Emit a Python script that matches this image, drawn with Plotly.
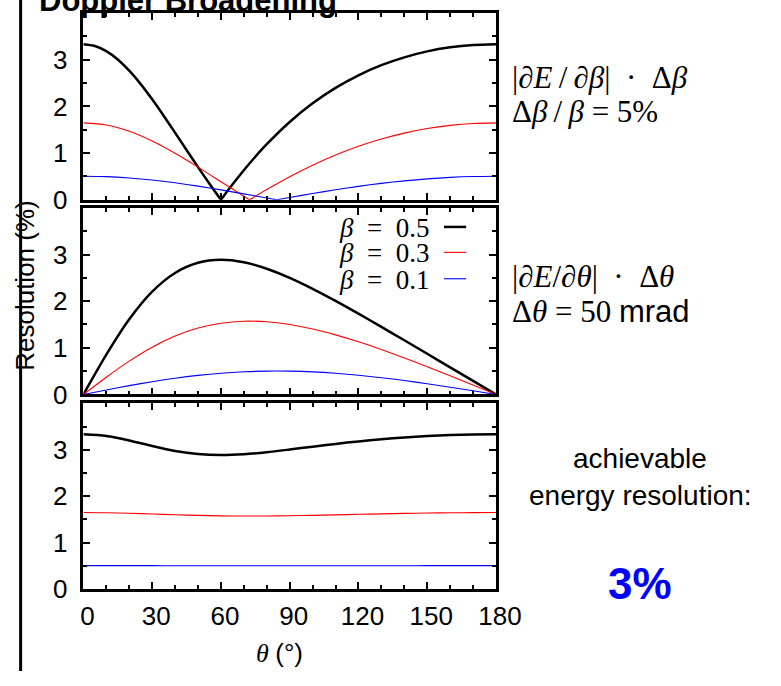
import plotly.graph_objects as go

W, H = 781, 686

# Angle grid (degrees)
theta = [0, 10, 20, 30, 40, 50, 60, 70, 80, 90, 100, 110, 120, 130, 140, 150, 160, 170, 180]

# |dE/dbeta| * dbeta  (%), dbeta/beta = 5 %
theta_b05 = [0, 5, 10, 15, 20, 25, 30, 35, 40, 45, 50, 55, 60, 65, 70, 75, 80, 90, 100, 110, 120,
             130, 140, 150, 160, 170, 180]
dbeta_b05 = [3.333, 3.295, 3.184, 3.004, 2.765, 2.477, 2.152, 1.802, 1.437, 1.068, 0.701, 0.344,
             0.0, 0.327, 0.635, 0.923, 1.191, 1.667, 2.066, 2.397, 2.667, 2.883, 3.051, 3.178,
             3.265, 3.316, 3.333]
theta_b03 = [0, 10, 20, 30, 40, 50, 60, 70, 72.5, 80, 90, 100, 110, 120, 130, 140, 150, 160, 170, 180]
dbeta_b03 = [1.648, 1.602, 1.468, 1.260, 0.997, 0.700, 0.388, 0.077, 0.0, 0.220, 0.495, 0.742,
             0.960, 1.147, 1.303, 1.429, 1.526, 1.594, 1.635, 1.648]
theta_b01 = [0, 10, 20, 30, 40, 50, 60, 70, 80, 84.3, 90, 100, 110, 120, 130, 140, 150, 160, 170, 180]
dbeta_b01 = [0.505, 0.496, 0.468, 0.424, 0.364, 0.293, 0.213, 0.127, 0.038, 0.0, 0.051, 0.136,
             0.216, 0.289, 0.353, 0.406, 0.449, 0.480, 0.499, 0.505]

# |dE/dtheta| * dtheta  (%), dtheta = 50 mrad
dtheta_b05 = [0, 0.855, 1.613, 2.205, 2.605, 2.822, 2.887, 2.834, 2.696, 2.5, 2.265, 2.006,
              1.732, 1.449, 1.162, 0.872, 0.582, 0.291, 0]
dtheta_b03 = [0, 0.370, 0.714, 1.013, 1.252, 1.424, 1.528, 1.571, 1.558, 1.5, 1.404, 1.278,
              1.130, 0.963, 0.784, 0.595, 0.400, 0.201, 0]
dtheta_b01 = [0, 0.096, 0.189, 0.274, 0.348, 0.409, 0.456, 0.486, 0.501, 0.5, 0.484, 0.454,
              0.412, 0.360, 0.299, 0.230, 0.156, 0.079, 0]

# achievable energy resolution (%)
total_b05 = [3.333, 3.297, 3.201, 3.081, 2.975, 2.908, 2.887, 2.904, 2.947, 3.005, 3.066, 3.126,
             3.180, 3.227, 3.265, 3.295, 3.317, 3.329, 3.333]
total_b03 = [1.648, 1.644, 1.632, 1.617, 1.600, 1.587, 1.577, 1.573, 1.573, 1.580, 1.588, 1.598,
             1.610, 1.620, 1.630, 1.638, 1.643, 1.647, 1.648]
total_b01 = [0.505, 0.505, 0.505, 0.505, 0.504, 0.503, 0.503, 0.502, 0.502, 0.503, 0.503, 0.503,
             0.503, 0.504, 0.504, 0.505, 0.505, 0.505, 0.505]

x_ticks = [0, 30, 60, 90, 120, 150, 180]
y_ticks = [0, 1, 2, 3]
beta_labels = ["0.5", "0.3", "0.1"]

BLACK, RED, BLUE = "#000000", "#ff0000", "#0000ff"
styles = [(BLACK, 2.5), (RED, 1.1), (BLUE, 1.1)]

SANS = "Liberation Sans, Arial, sans-serif"
SERIF = "Liberation Serif, Times New Roman, serif"


def px(x):
    return x / W


def py(y):
    return 1 - y / H


fig = go.Figure()


def add_line(x, y, k, panel):
    color, width = styles[k]
    sfx = "" if panel == 1 else str(panel)
    fig.add_trace(go.Scatter(
        x=x, y=y, mode="lines", xaxis="x" + sfx, yaxis="y" + sfx,
        line=dict(color=color, width=width, shape="spline", smoothing=0.8),
        showlegend=False, hoverinfo="skip"))


# panel 1: each curve has a cusp at its zero, so draw both branches separately
for k, (xs, ys) in enumerate([(theta_b05, dbeta_b05), (theta_b03, dbeta_b03), (theta_b01, dbeta_b01)]):
    i0 = ys.index(0.0)
    add_line(xs[:i0 + 1], ys[:i0 + 1], k, 1)
    add_line(xs[i0:], ys[i0:], k, 1)

for k, ys in enumerate([dtheta_b05, dtheta_b03, dtheta_b01]):
    add_line(theta, ys, k, 2)

for k, ys in enumerate([total_b05, total_b03, total_b01]):
    add_line(theta, ys, k, 3)

x_dom = [px(83.5), px(512)]
y_doms = {1: [py(204.3), py(13.3)], 2: [py(403.3), py(212.5)], 3: [py(602.3), py(412.3)]}

axis_common = dict(showline=True, linecolor="black", linewidth=2.5, mirror="allticks",
                   ticks="inside", tickcolor="black", tickwidth=1.5, showgrid=False,
                   zeroline=False, fixedrange=True,
                   tickfont=dict(family=SANS, size=26, color="black"))

layout = dict(width=W, height=H, margin=dict(l=0, r=0, t=0, b=0), autosize=False,
              plot_bgcolor="white", paper_bgcolor="white", showlegend=False)

for p in (1, 2, 3):
    sx = "" if p == 1 else str(p)
    layout["xaxis" + sx] = dict(
        axis_common, domain=x_dom, range=[0, 180], anchor="y" + sx,
        tickmode="array", tickvals=x_ticks, ticklen=7,
        showticklabels=(p == 3), ticklabelstandoff=2, ticklabelshift=4,
        minor=dict(ticks="inside", tickmode="linear", tick0=0, dtick=10, ticklen=4,
                   tickcolor="black", tickwidth=1.5))
    layout["yaxis" + sx] = dict(
        axis_common, domain=y_doms[p], range=[0, 4], anchor="x" + sx,
        tickmode="array", tickvals=y_ticks, ticklen=7, ticklabelstandoff=8,
        minor=dict(ticks="inside", tickmode="linear", tick0=0, dtick=0.5, ticklen=4,
                   tickcolor="black", tickwidth=1.5))

fig.update_layout(layout)

ann = []


def text(x, y, s, size, family=SANS, color="black", xanchor="left", angle=0):
    ann.append(dict(x=px(x), y=py(y), xref="paper", yref="paper", text=s, showarrow=False,
                    xanchor=xanchor, yanchor="middle", textangle=angle,
                    font=dict(family=family, size=size, color=color)))


EN = "\u2002"
TH = "\u2009"
SANS_SPAN = "<span style='font-family:Liberation Sans, Arial, sans-serif'>{}</span>"

text(35, 1, "<b>Doppler Broadening</b>", 31)
text(22, 292, "Resolution (%)", 26, xanchor="center", angle=-90)
text(287, 668, "<i>θ</i> " + SANS_SPAN.format("(°)"), 26, family=SERIF, xanchor="center")

text(527, 79, "|∂<i>E</i>" + TH + "/" + TH + "∂<i>β</i>|" + EN + "·" + EN + "Δ<i>β</i>", 31, family=SERIF)
text(527, 114, "Δ<i>β</i>" + TH + "/" + TH + "<i>β</i> = 5%", 31, family=SERIF)
text(527, 283, "|∂<i>E</i>/∂<i>θ</i>|" + EN + "·" + EN + "Δ<i>θ</i>", 31, family=SERIF)
text(527, 318, "Δ<i>θ</i> = 50 " + SANS_SPAN.format("mrad"), 31, family=SERIF)

text(662, 469, "achievable", 28, xanchor="center")
text(662, 507, "energy resolution:", 28, xanchor="center")
text(662, 597, "<b>3%</b>", 44, color=BLUE, xanchor="center")

# key for the three beta values
row_y = [233, 259, 286]
shapes = []
for k, lab in enumerate(beta_labels):
    text(444, row_y[k], "<i>β</i>" + EN + "=" + EN + lab, 27, family=SERIF, xanchor="right")
    color, width = styles[k]
    shapes.append(dict(type="line", xref="paper", yref="paper", x0=px(458), x1=px(481),
                       y0=py(row_y[k] - 1), y1=py(row_y[k] - 1),
                       line=dict(color=color, width=width)))

# vertical rule at the left edge
shapes.append(dict(type="line", xref="paper", yref="paper", x0=px(18.3), x1=px(18.3),
                   y0=0, y1=1, line=dict(color="black", width=3)))

fig.update_layout(annotations=ann, shapes=shapes)

fig.write_html("out.html")
